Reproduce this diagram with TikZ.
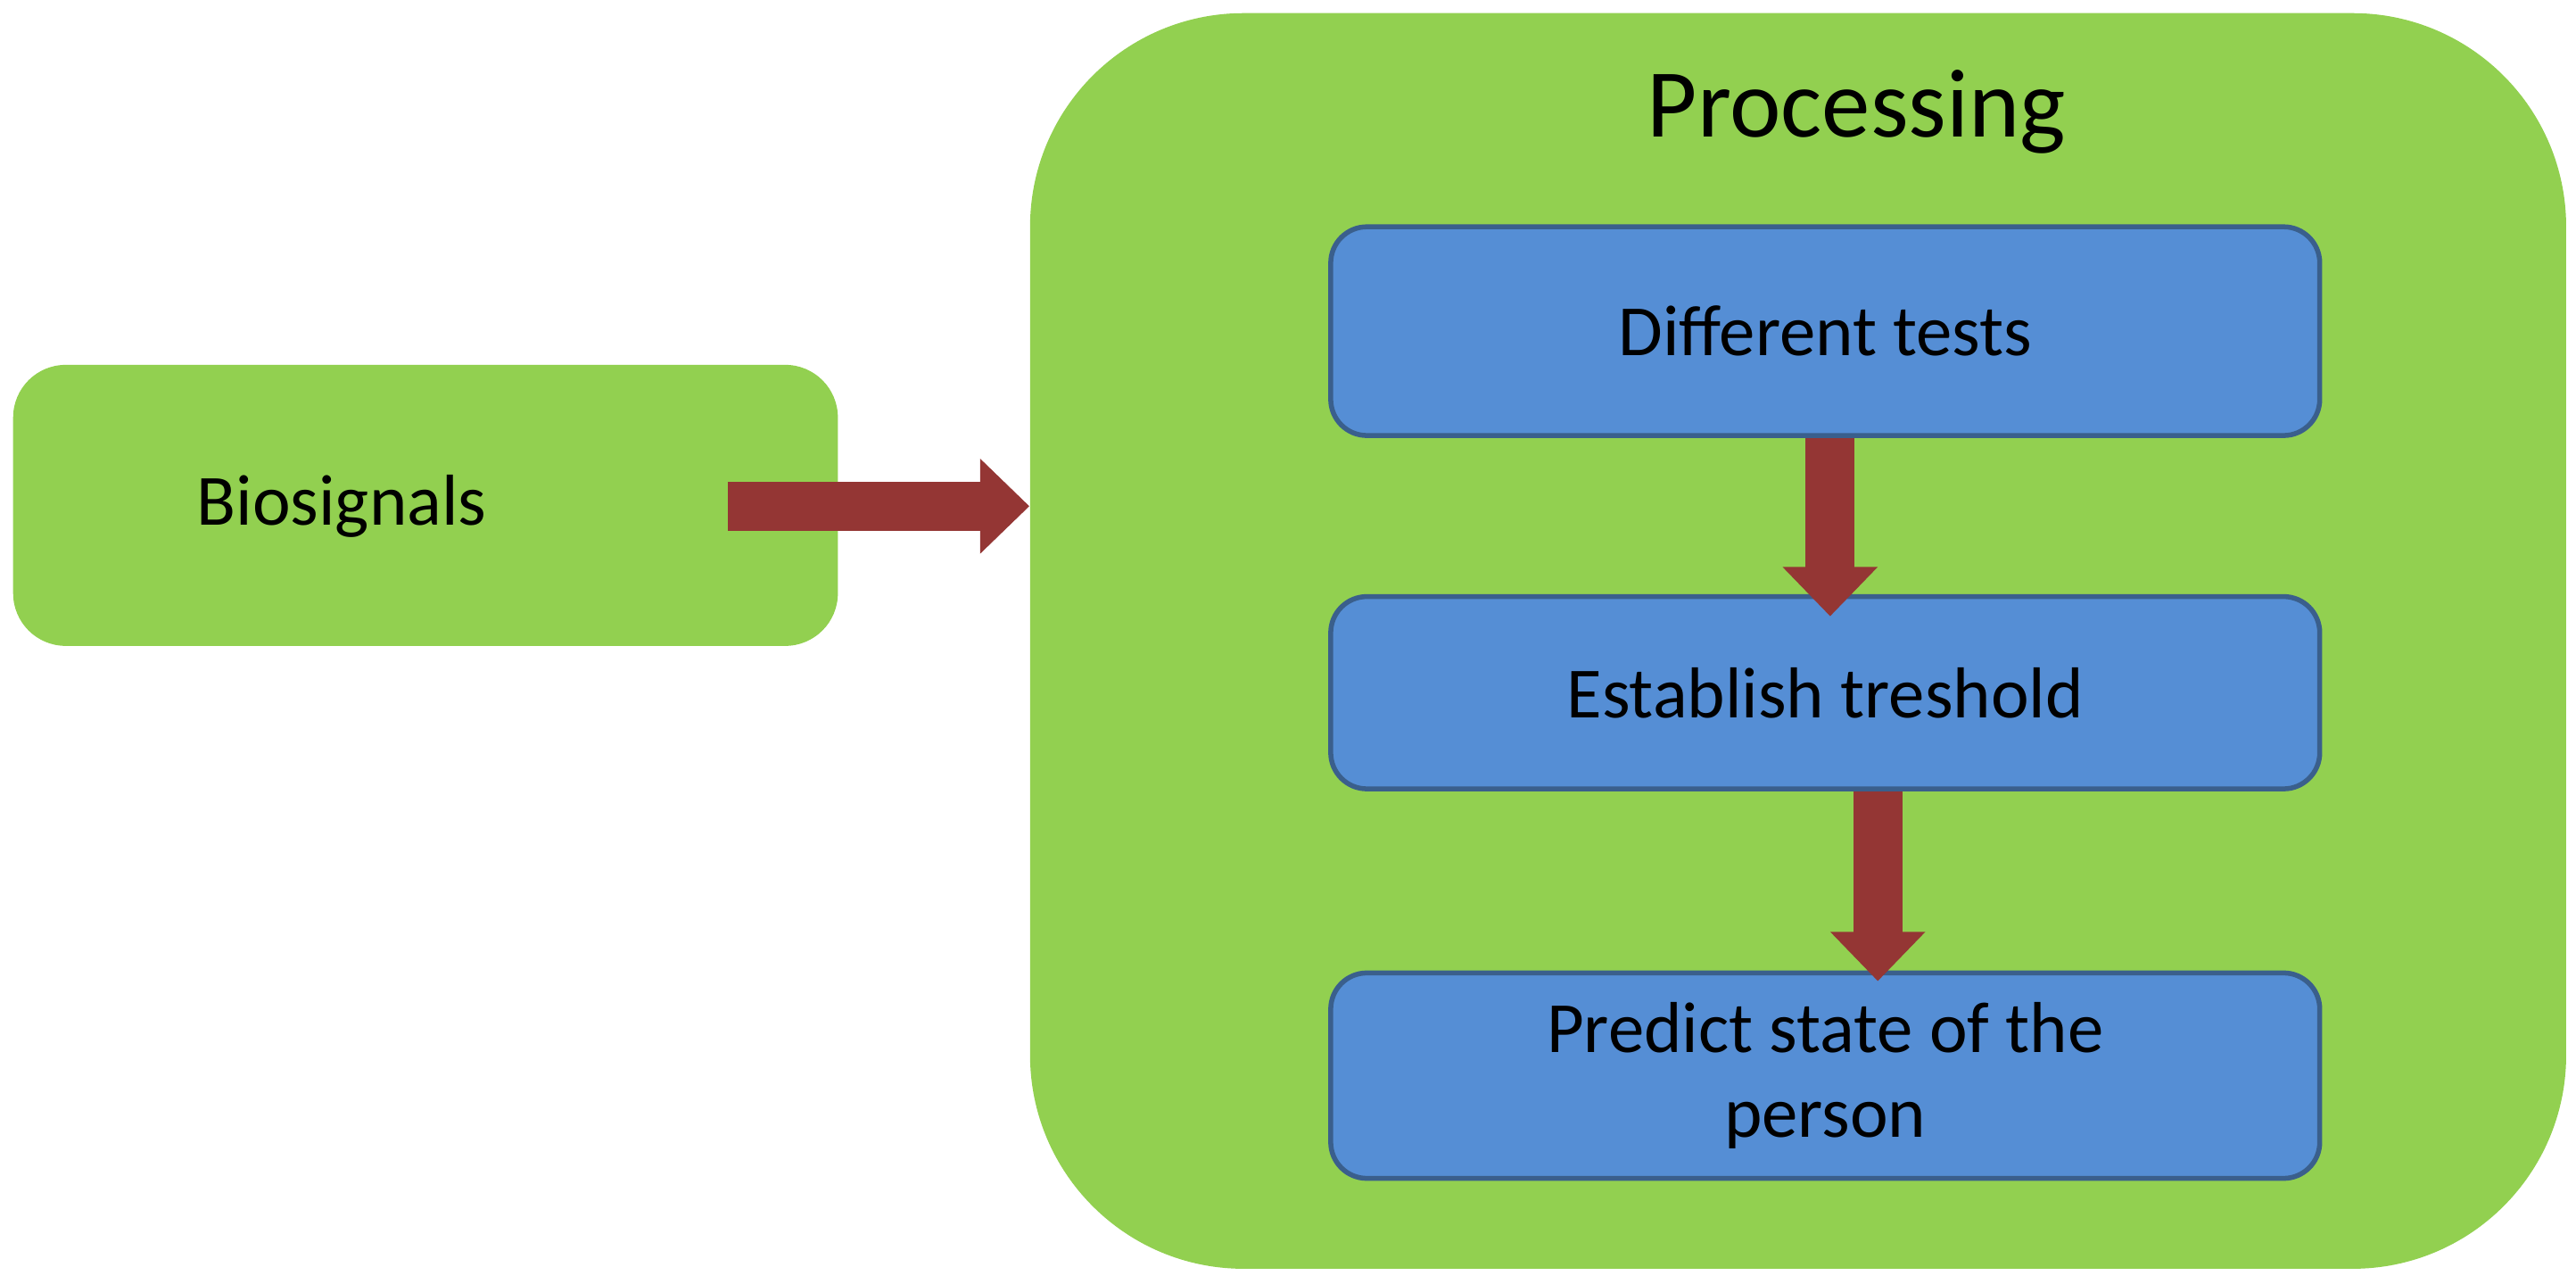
\documentclass[tikz,border=0pt]{standalone}
\usepackage{fontspec}
\setmainfont{Carlito}
\usetikzlibrary{arrows.meta}
\definecolor{boxgreen}{HTML}{92D050}
\definecolor{boxblue}{HTML}{558ED5}
\definecolor{lineblue}{HTML}{3A5F8C}
\definecolor{arrowred}{HTML}{943634}
\begin{document}
\begin{tikzpicture}[x=0.01842cm,y=-0.01842cm]
 		\def\u{0.01842cm}     %one pixel of the reference.
 		\tikzset{
 			greenbox/.style={fill=boxgreen,draw=none,inner sep=0pt},
 			stepbox/.style={fill=boxblue,draw=lineblue,line width=3*\u,rounded corners=22*\u,
 				minimum width=602*\u,inner sep=0pt,align=center,font=\fontsize{23}{27}\selectfont},
 			flow/.style={draw=arrowred,line width=30*\u,-{Triangle[width=56*\u,length=30*\u]},shorten >=0pt}
 		}
 		\useasboundingbox (0,0) rectangle (1568,781);
 		
 		% Input and processing blocks
 		\node[greenbox,rounded corners=32*\u,minimum width=502*\u,minimum height=171*\u] (bio) at (259,307.5) {};
 		\node[font=\fontsize{23}{27}\selectfont] (biotext) at (208,308) {Biosignals};
 		\node[greenbox,rounded corners=130*\u,minimum width=935*\u,minimum height=764*\u] (proc) at (1094.5,390) {};
 		\node[font=\fontsize{31}{36}\selectfont] (proctext) at (1130,68) {Processing};
 		
 		% Steps
 		\node[stepbox,minimum height=127*\u] (tests) at (1111,201.5) {Different tests};
 		\node[stepbox,minimum height=117*\u] (thresh) at (1111,421.5) {Establish treshold};
 		\node[stepbox,minimum height=125*\u] (predict) at (1111,654.5) {Predict state of the\\person};
 		
 		% Arrows
 		\coordinate (a0) at (443,308);
 		\coordinate (a1) at (1114,375);
 		\coordinate (a2) at (1143,597);
 		\draw[flow] (a0) -- (proc.west |- a0);
 		\draw[flow] (tests.south -| a1) -- (a1);
 		\draw[flow] (thresh.south -| a2) -- (a2);
\end{tikzpicture}
\end{document}
